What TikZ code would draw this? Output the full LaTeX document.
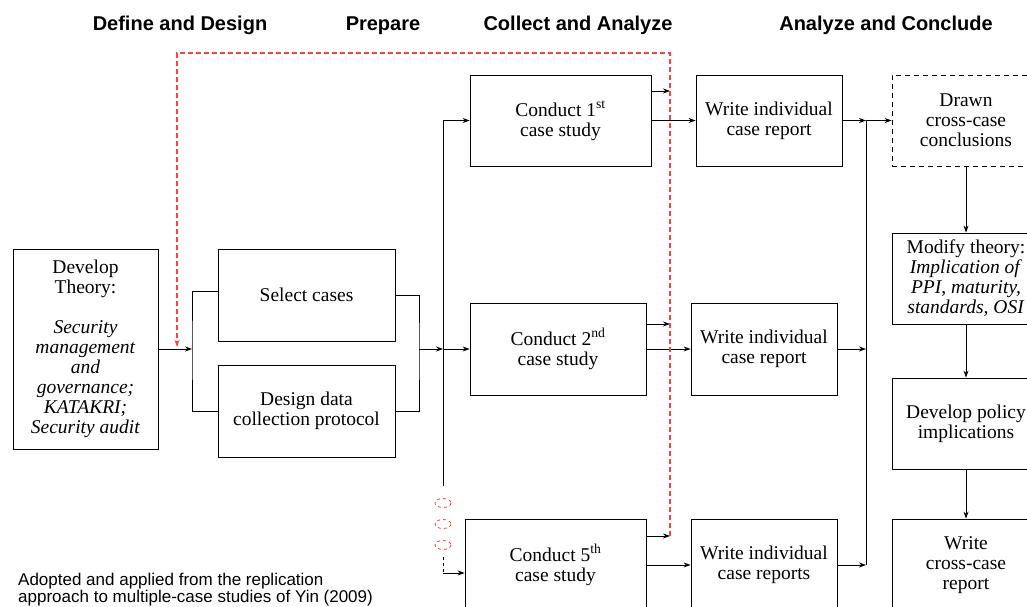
\documentclass[tikz,border=0pt]{standalone}
\usepackage{fontspec}
\setmainfont{Liberation Serif}
\newfontfamily\headfont{Liberation Sans}
\usetikzlibrary{arrows.meta}

\tikzset{
  stage/.style={draw, line width=0.8pt, align=center, inner sep=1pt,
    font=\fontsize{19.5}{20}\selectfont},
  link/.style={-{Stealth[length=7pt,width=5pt]}, line width=0.8pt},
  loopback/.style={draw=red!75, line width=1.4pt, dash pattern=on 5pt off 3pt},
  phase/.style={anchor=base, font=\headfont\bfseries\fontsize{20}{20}\selectfont},
  note/.style={font=\headfont\fontsize{17}{16.5}\selectfont, align=left, inner sep=0pt}
}

\begin{document}
\begin{tikzpicture}[x=1pt, y=-1pt]
        \useasboundingbox (0,0) rectangle (1027,607);

            % phases
            \node[phase] (define) at (180,31) {Define and Design};
            \node[phase] (prepare) at (383,31) {Prepare};
            \node[phase] (collect) at (578,31) {Collect and Analyze};
            \node[phase] (conclude) at (886,31) {Analyze and Conclude};

            \node[stage, minimum width=145pt, minimum height=200pt] (theory) at (85.5,349)
              {Develop\\Theory:\\[20pt]\textit{Security}\\\textit{management}\\\textit{and}\\\textit{governance;}\\\textit{KATAKRI;}\\\textit{Security audit}};
            \node[stage, minimum width=177pt, minimum height=92pt] (select) at (306.5,295) {Select cases};
            \node[stage, minimum width=177pt, minimum height=92pt] (design) at (306.5,411) {Design data\\collection protocol};

            \node[stage, minimum width=181pt, minimum height=91pt] (conduct1) at (560.5,120.5) {Conduct 1\textsuperscript{st}\\case study};
            \node[stage, minimum width=176pt, minimum height=92pt] (conduct2) at (558,349) {Conduct 2\textsuperscript{nd}\\case study};
            \node[stage, minimum width=181pt, minimum height=92pt] (conduct5) at (555.5,565) {Conduct 5\textsuperscript{th}\\case study};

            \node[stage, minimum width=146pt, minimum height=91pt] (write1) at (769,120.5) {Write individual\\case report};
            \node[stage, minimum width=146pt, minimum height=92pt] (write2) at (764,349) {Write individual\\case report};
            \node[stage, minimum width=146pt, minimum height=92pt] (write5) at (764,565) {Write individual\\case reports};

            \node[stage, dash pattern=on 5pt off 4pt, minimum width=148pt, minimum height=91pt] (drawn) at (966,120.5) {Drawn\\cross-case\\conclusions};
            \node[stage, minimum width=148pt, minimum height=91pt] (modify) at (966,278.5)
              {Modify theory:\\\textit{Implication of}\\\textit{PPI, maturity,}\\\textit{standards, OSI}};
            \node[stage, minimum width=148pt, minimum height=91pt] (policy) at (966,423.5) {Develop policy\\implications};
            \node[stage, minimum width=148pt, minimum height=92pt] (crossrep) at (966,565) {Write\\cross-case\\report};

            \node[note, anchor=north west] (source) at (18,573)
              {Adopted and applied from the replication\\approach to multiple-case studies of Yin (2009)};

            % joints
            \coordinate (lsplit) at (192,349);
            \coordinate (rjoin) at (419,349);
            \coordinate (bus) at (443,349);
            \coordinate (bustop) at (443,120.5);
            \coordinate (busend) at (443,486);
            \coordinate (gapend) at (443,557);
            \coordinate (bend) at (443,573);
            \coordinate (rettop) at (670,53);
            \coordinate (retleft) at (177,53);
            \coordinate (retend) at (177,347);
            \coordinate (cbus) at (866,120.5);

            \draw[link] (theory.east) -- (lsplit);
            \draw[line width=0.8pt] ([yshift=4pt]select.west) -| (lsplit) |- (design.west);
            \draw[line width=0.8pt] (select.east) -| (rjoin) |- (design.east);
            \draw[link] (rjoin) -- (bus);
            \draw[link] (bus) -- (conduct2.west);
            \draw[line width=0.8pt] (bustop) -- (busend);
            \draw[link] (bustop) -- (conduct1.west);

            \foreach \y in {503,524,545}{
              \draw[red!75, line width=0.8pt, dashed] (443,\y) ellipse [x radius=8, y radius=4.5];
            }
            \draw[line width=0.8pt, dashed] (gapend) -- (bend);
            \draw[link] (bend) -- (bend -| conduct5.west);

            \foreach \c/\y/\n in {conduct1/91/1, conduct2/324/2, conduct5/536/5}{
              \coordinate (ret\n) at (670,\y);
              \draw[link] (\c.east |- ret\n) -- (ret\n);
              \draw[link] (\c.east) -- (write\n.west);
            }
            \draw[loopback, -{Stealth[length=7pt,width=5pt,red!75]}] (ret5) -- (rettop) -- (retleft) -- (retend);

            \draw[line width=0.8pt] (cbus) -- (cbus |- write5.east);
            \draw[link] (write1.east) -- (cbus);
            \draw[link] (cbus) -- (drawn.west);
            \foreach \n in {2,5}{
              \draw[link] (write\n.east) -- (write\n.east -| cbus);
            }

            \foreach \a/\b in {drawn/modify, modify/policy, policy/crossrep}{
              \draw[link] (\a.south) -- (\b.north);
            }
        \end{tikzpicture}
\end{document}
